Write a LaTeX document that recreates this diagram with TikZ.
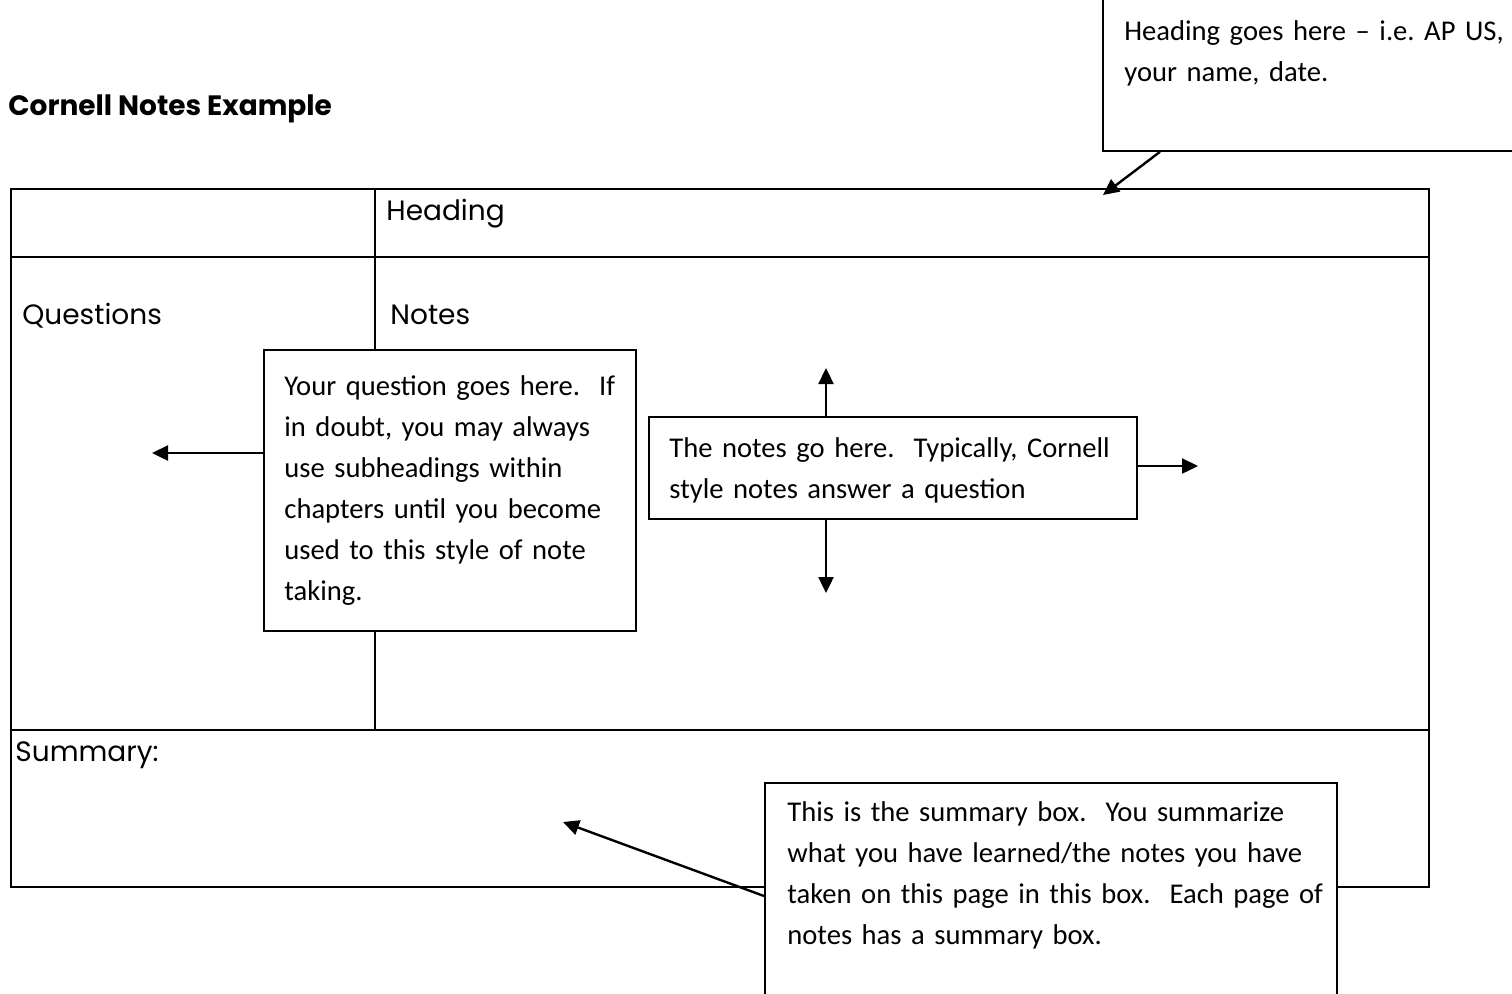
\documentclass[tikz,border=0pt]{standalone}
\usepackage{fontspec}
\setmainfont{Carlito}
\newfontfamily\gothic{Poppins}
\usetikzlibrary{positioning, arrows.meta}
\frenchspacing

\begin{document}
\begin{tikzpicture}[x=0.5pt, y=-0.5pt,
  frame/.style={line width=1.3pt},
  cellname/.style={anchor=base west, inner sep=0pt, font=\gothic\fontsize{14}{17}\selectfont},
  callbox/.style={draw, line width=0.9pt, fill=white, anchor=north west, inner sep=0pt},
  calltext/.style={anchor=base west, inner sep=0pt, text width=#1, align=left,
                   font=\fontsize{14.3}{20.5}\selectfont},
  tip/.style={line width=1.2pt, -{Triangle[length=8pt,width=7.5pt]}}]
\useasboundingbox (0,0) rectangle (1512,993);
\clip (0,0) rectangle (1512,993);

% title
\node[anchor=base west, inner sep=0pt, font=\gothic\bfseries\fontsize{14}{17}\selectfont]
  (title) at (8,115) {Cornell Notes Example};

% the page form
\coordinate (tl) at (11,189);
\coordinate (br) at (1429,887);
\draw[frame] (tl) rectangle (br);
\draw[frame] (tl |- 0,257) -- (br |- 0,257);
\draw[frame] (tl |- 0,730) -- (br |- 0,730);
\draw[frame] (375,189) -- (375,730);
\node[cellname] (heading) at (386,220) {Heading};
\node[cellname] (questions) at (22,324) {Questions};
\node[cellname] (notes) at (390,324) {Notes};
\node[cellname] (summary) at (15,761) {Summary:};

% heading callout
\node[callbox, minimum width=215pt, minimum height=82pt] (hbox) at (1102,-14) {};
\node[calltext=200pt] (htext) at (1124,40) {Heading goes here – i.e. AP US,\\your name, date.};
\coordinate (htip) at (1103,195);
\draw[tip] ([xshift=29pt]hbox.south west) -- (htip);

% question callout
\node[callbox, minimum width=186pt, minimum height=140.5pt] (qbox) at (263,349) {};
\node[calltext=175pt] (qtext) at (284,395) {Your question goes here.\ \ If\\in doubt, you may always\\use subheadings within\\chapters until you become\\used to this style of note\\taking.};
\coordinate (qtip) at (152,453);
\draw[tip] (qbox.west |- qtip) -- (qtip);

% notes callout
\node[callbox, minimum width=244pt, minimum height=51pt] (nbox) at (648,416) {};
\node[calltext=235pt] (ntext) at (669,457) {The notes go here.\ \ Typically, Cornell\\style notes answer a question};
\coordinate (nup) at (826,368);
\coordinate (ndown) at (826,593);
\coordinate (nright) at (1198,466);
\draw[tip] (nbox.north -| nup) -- (nup);
\draw[tip] (nbox.south -| ndown) -- (ndown);
\draw[tip] (nbox.east |- nright) -- (nright);

% summary callout
\node[callbox, minimum width=286pt, minimum height=125pt] (sbox) at (764,782) {};
\node[calltext=275pt] (stext) at (787,821) {This is the summary box.\ \ You summarize\\what you have learned/the notes you have\\taken on this page in this box.\ \ Each page of\\notes has a summary box.};
\coordinate (stip) at (563,822);
\draw[tip] ([yshift=-57pt]sbox.north west) -- (stip);

\end{tikzpicture}
\end{document}
